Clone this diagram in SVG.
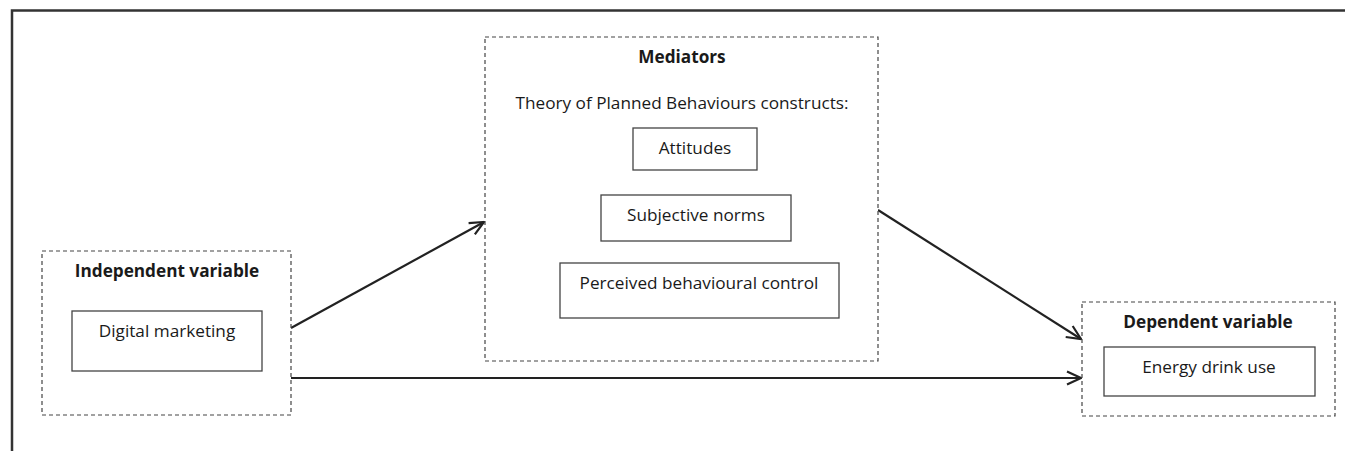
<svg xmlns="http://www.w3.org/2000/svg" width="1345" height="451" viewBox="0 0 1345 451">
<defs>
<style>
.frame{fill:none;stroke:#333;stroke-width:2.5}
.dash{fill:#fff;stroke:#444;stroke-width:1.2;stroke-dasharray:4,3}
.box{fill:#fff;stroke:#444;stroke-width:1.3}
.t{font-family:"Open Sans","Liberation Sans",sans-serif;font-size:17.2px;fill:#1a1a1a;text-anchor:middle}
.b{font-weight:bold}
.arrow{fill:none;stroke:#222;stroke-width:2.2;marker-end:url(#ah)}
</style>
<marker id="ah" viewBox="0 0 16 16" refX="15" refY="8" markerWidth="16" markerHeight="16" markerUnits="userSpaceOnUse" orient="auto">
<path d="M1,1.5 L15,8 L1,14.5" fill="none" stroke="#222" stroke-width="2.2"/>
</marker>
</defs>
<rect width="1345" height="451" fill="#fff"/>
<path class="frame" d="M12,451 V10.5 H1345"/>
<g id="connectors">
<line class="arrow" x1="291" y1="328" x2="484" y2="222"/>
<line class="arrow" x1="878" y1="210" x2="1081" y2="339"/>
<line class="arrow" x1="291" y1="378" x2="1081" y2="378"/>
</g>
<g id="independent">
<rect class="dash" x="42" y="251" width="249" height="164"/>
<text class="t b" x="167" y="277">Independent variable</text>
<rect class="box" x="72" y="311" width="190" height="60"/>
<text class="t" x="167" y="337">Digital marketing</text>
</g>
<g id="mediators">
<rect class="dash" x="485" y="37" width="393" height="324"/>
<text class="t b" x="682" y="63">Mediators</text>
<text class="t" x="682" y="109">Theory of Planned Behaviours constructs:</text>
</g>
<g id="attitudes">
<rect class="box" x="633" y="128" width="124" height="42"/>
<text class="t" x="695" y="154">Attitudes</text>
</g>
<g id="subjective-norms">
<rect class="box" x="601" y="195" width="190" height="46"/>
<text class="t" x="696" y="221">Subjective norms</text>
</g>
<g id="pbc">
<rect class="box" x="560" y="263" width="279" height="55"/>
<text class="t" x="699" y="289">Perceived behavioural control</text>
</g>
<g id="dependent">
<rect class="dash" x="1082" y="302" width="253" height="114"/>
<text class="t b" x="1208" y="328">Dependent variable</text>
<rect class="box" x="1104" y="347" width="211" height="49"/>
<text class="t" x="1209" y="373">Energy drink use</text>
</g>
</svg>
